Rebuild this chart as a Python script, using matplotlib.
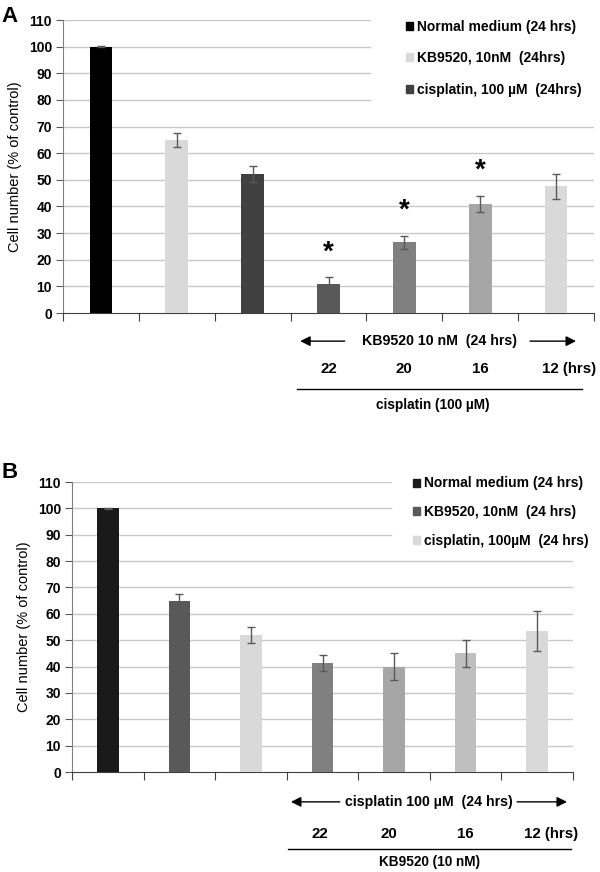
import matplotlib
matplotlib.use('Agg')
import matplotlib.pyplot as plt
from matplotlib.patches import Patch

plt.rcParams['font.family'] = ['Liberation Sans', 'DejaVu Sans']
plt.rcParams['font.weight'] = 'bold'

# panel A data
a_vals = [100, 65, 52, 10.7, 26.5, 41, 47.5]
a_errs = [0.2, 2.5, 3, 3, 2.4, 3, 4.7]
a_cols = ['#000000', '#d9d9d9', '#404040', '#595959', '#808080', '#a6a6a6', '#d9d9d9']
a_star = [None, None, None, 22.5, 38.5, 53.5, None]
a_legend = ['Normal medium (24 hrs)', 'KB9520, 10nM  (24hrs)', 'cisplatin, 100 \u00b5M  (24hrs)']
a_legcols = ['#000000', '#d9d9d9', '#404040']
a_arrow = 'KB9520 10 nM  (24 hrs)'
a_bottom = 'cisplatin (100 \u00b5M)'

# panel B data
b_vals = [100, 65, 52, 41.5, 40, 45, 53.5]
b_errs = [0.2, 2.5, 3, 3, 5, 5, 7.5]
b_cols = ['#1a1a1a', '#595959', '#d9d9d9', '#808080', '#a6a6a6', '#bfbfbf', '#d9d9d9']
b_legend = ['Normal medium (24 hrs)', 'KB9520, 10nM  (24 hrs)', 'cisplatin, 100\u00b5M  (24 hrs)']
b_legcols = ['#1a1a1a', '#595959', '#d9d9d9']
b_arrow = 'cisplatin 100 \u00b5M  (24 hrs)'
b_bottom = 'KB9520 (10 nM)'

hours = ['22', '20', '16', '12 (hrs)']
yticks = list(range(0, 111, 10))

fig = plt.figure(figsize=(6, 8.72), dpi=100)
axA = fig.add_axes([63/600, 1-313/872, 531/600, 293/872])
axB = fig.add_axes([72/600, 1-772/872, 501/600, 290/872])


def draw(ax, vals, errs, cols, short_top, short_frac):
    x = range(len(vals))
    ax.bar(x, vals, width=0.3, color=cols, zorder=3)
    ax.errorbar(x, vals, yerr=errs, fmt='none', ecolor='#595959', elinewidth=1,
                capsize=3, capthick=1, zorder=4)
    for y in yticks[1:]:
        frac = short_frac if y >= short_top else 1
        ax.axhline(y, xmin=0, xmax=frac, color='#c8c8c8', lw=1, zorder=1)
    ax.set_xlim(-0.5, len(vals) - 0.5)
    ax.set_ylim(0, 110)
    ax.set_yticks(yticks)
    ax.set_xticks([i - 0.5 for i in range(len(vals) + 1)])
    ax.set_xticklabels([])
    ax.tick_params(axis='y', direction='out', length=5, color='#595959',
                   labelsize=10, pad=3)
    ax.tick_params(axis='x', direction='out', length=6, color='#404040')
    for s in ['top', 'right']:
        ax.spines[s].set_visible(False)
    ax.spines['left'].set_color('#808080')
    ax.spines['bottom'].set_color('#404040')
    ax.set_ylabel('Cell number (% of control)', fontsize=10.5, labelpad=5)


draw(axA, a_vals, a_errs, a_cols, 80, 0.578)
draw(axB, b_vals, b_errs, b_cols, 90, 0.637)

for i, s in enumerate(a_star):
    if s is not None:
        axA.text(i, s, '*', ha='center', va='center', fontsize=20)

axA.legend([Patch(color=c) for c in a_legcols], a_legend, loc='upper left',
           bbox_to_anchor=(0.646, 1.0), frameon=False, fontsize=10,
           handlelength=0.5, handleheight=0.5, handletextpad=0.3,
           labelspacing=1.25, borderpad=0, borderaxespad=0)
axB.legend([Patch(color=c) for c in b_legcols], b_legend, loc='upper left',
           bbox_to_anchor=(0.68, 1.019), frameon=False, fontsize=10,
           handlelength=0.5, handleheight=0.5, handletextpad=0.3,
           labelspacing=1.06, borderpad=0, borderaxespad=0)


def below(ax, label, arrow_y, x_left, x_tl, x_tr, x_right, x_text,
          num_y, num_x, twelve_x, line_y, line_l, line_r, bottom, bot_y, bot_x):
    tr = ax.get_xaxis_transform()
    ap = dict(arrowstyle='-|>', color='black', lw=1, mutation_scale=15)
    ax.annotate('', xy=(x_left, arrow_y), xytext=(x_tl, arrow_y), xycoords=tr,
                textcoords=tr, arrowprops=ap, annotation_clip=False)
    ax.annotate('', xy=(x_right, arrow_y), xytext=(x_tr, arrow_y), xycoords=tr,
                textcoords=tr, arrowprops=ap, annotation_clip=False)
    ax.text(x_text, arrow_y, label, transform=tr, ha='center', va='center', fontsize=10.2)
    for xx, h in zip(num_x, hours[:3]):
        ax.text(xx, num_y, h, transform=tr, ha='center', va='center', fontsize=10.8)
    ax.text(twelve_x, num_y, hours[3], transform=tr, ha='left', va='center', fontsize=10.8)
    ax.plot([line_l, line_r], [line_y, line_y], transform=tr, color='black', lw=1,
            clip_on=False)
    ax.text(bot_x, bot_y, bottom, transform=tr, ha='center', va='center', fontsize=9.8)


below(axA, a_arrow, -0.096, 2.59, 3.25, 5.62, 6.30, 4.46,
      -0.19, [3, 4, 5], 5.82, -0.259, 2.59, 6.34, a_bottom, -0.314, 4.37)
below(axB, b_arrow, -0.103, 2.52, 3.28, 5.68, 6.455, 4.49,
      -0.214, [2.96, 3.93, 4.99], 5.81, -0.266, 2.52, 6.47, b_bottom, -0.31, 4.49)

fig.text(0.003, 1-16/872, 'A', fontsize=16, fontweight='bold', va='center')
fig.text(0.003, 1-472/872, 'B', fontsize=16, fontweight='bold', va='center')

fig.savefig('out.png', dpi=100)
